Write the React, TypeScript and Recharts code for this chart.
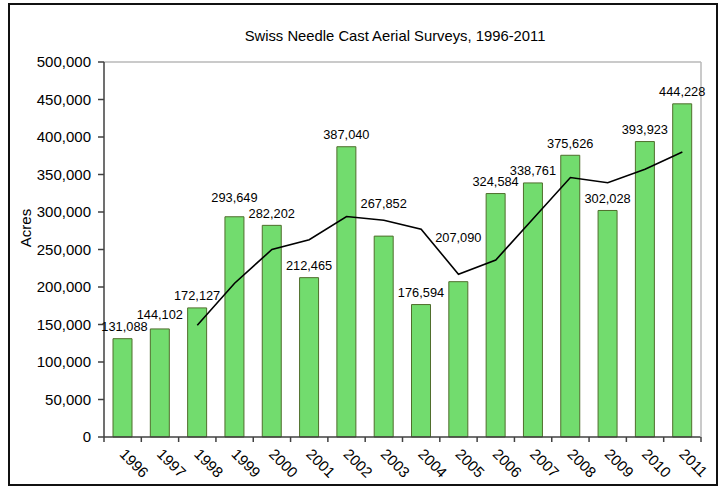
import React from 'react';
import { ComposedChart, Bar, Line, XAxis, YAxis, LabelList, ReferenceLine } from 'recharts';

const years = ['1996','1997','1998','1999','2000','2001','2002','2003','2004','2005','2006','2007','2008','2009','2010','2011'];
const acres = [131088,144102,172127,293649,282202,212465,387040,267852,176594,207090,324584,338761,375626,302028,393923,444228];
const trend = [null,null,149000,205000,250000,263000,294000,289000,277000,217000,236000,291000,346000,339000,357000,380000];
const yTicks = [0,50000,100000,150000,200000,250000,300000,350000,400000,450000,500000];

const data = years.map((y, i) => ({ year: y, acres: acres[i], trend: trend[i] }));

// label nudges (pixels, style only)
const labelNudge: Record<string, [number, number]> = {
  '1996': [2, 0], '1997': [0, 2], '1999': [0, 7], '2003': [0, 21], '2005': [0, 32],
};

const FONT = '"Liberation Sans", Arial, sans-serif';
const PLOT_LEFT = 104, PLOT_RIGHT = 701, PLOT_TOP = 62, PLOT_BOTTOM = 437;
const BAND = (PLOT_RIGHT - PLOT_LEFT) / years.length;

const fmt = (v: number) => v.toLocaleString('en-US');

const XTick = (props: any) => {
  const { x, y, payload, index } = props;
  return (
    <g>
      <line x1={x + BAND / 2} x2={x + BAND / 2} y1={y} y2={y + 5} stroke="#404040" strokeWidth={1.5} />
      {index === 0 && <line x1={x - BAND / 2} x2={x - BAND / 2} y1={y} y2={y + 5} stroke="#404040" strokeWidth={1.5} />}
      <text
        transform={`translate(${x - 4},${y + 18}) rotate(45)`}
        textAnchor="start"
        fontSize={15}
        fontFamily={FONT}
        fill="#000"
      >
        {payload.value}
      </text>
    </g>
  );
};

const BarLabel = (props: any) => {
  const { x, y, width, value, index } = props;
  const nudge = labelNudge[years[index]] || [0, 0];
  return (
    <text
      x={x + width / 2 + nudge[0]}
      y={y - 7.5 - nudge[1]}
      textAnchor="middle"
      fontSize={12.8}
      fontFamily={FONT}
      fill="#000"
    >
      {fmt(value)}
    </text>
  );
};

export default function App() {
  return (
    <div style={{ position: 'absolute', left: 0, top: 0, width: 720, height: 487, background: '#fff' }}>
      <div style={{ position: 'absolute', left: 8, top: 3, width: 710, height: 483, boxSizing: 'border-box', border: '2px solid #111' }} />
      <div style={{ position: 'absolute', left: 0, top: 0 }}>
        <ComposedChart
          width={720}
          height={487}
          data={data}
          margin={{ top: PLOT_TOP, right: 720 - PLOT_RIGHT - 1, left: 0, bottom: 0 }}
          barCategoryGap="23%"
        >
          <text x={395} y={41} textAnchor="middle" fontSize={14.8} fontFamily={FONT} fill="#000">
            Swiss Needle Cast Aerial Surveys, 1996-2011
          </text>
          <text
            transform="translate(31,228) rotate(-90)"
            textAnchor="middle"
            fontSize={15}
            fontFamily={FONT}
            fill="#000"
          >
            Acres
          </text>
          <XAxis
            dataKey="year"
            height={487 - PLOT_BOTTOM}
            axisLine={{ stroke: '#404040', strokeWidth: 1.5 }}
            tickLine={false}
            tickSize={0}
            tickMargin={0}
            interval={0}
            tick={<XTick />}
          />
          <YAxis
            yAxisId="left"
            width={PLOT_LEFT}
            domain={[0, 500000]}
            ticks={yTicks}
            tickFormatter={fmt}
            axisLine={{ stroke: '#404040', strokeWidth: 1.5 }}
            tickLine={{ stroke: '#404040', strokeWidth: 1.5 }}
            tickSize={6}
            tickMargin={7}
            tick={{ fontSize: 15, fontFamily: FONT, fill: '#000' }}
            interval={0}
          />
          <YAxis
            yAxisId="right"
            orientation="right"
            width={1}
            domain={[0, 500000]}
            tick={false}
            tickLine={false}
            axisLine={{ stroke: '#b8b8b8', strokeWidth: 1.5 }}
          />
          <ReferenceLine yAxisId="left" y={500000} stroke="#b8b8b8" strokeWidth={1.5} />
          <Bar
            yAxisId="left"
            dataKey="acres"
            fill="#72DC6E"
            stroke="#4f6e2c"
            strokeWidth={1}
            barSize={19}
            isAnimationActive={false}
          >
            <LabelList dataKey="acres" content={<BarLabel />} />
          </Bar>
          <Line
            yAxisId="left"
            dataKey="trend"
            stroke="#000"
            strokeWidth={1.6}
            dot={false}
            activeDot={false}
            connectNulls={false}
            isAnimationActive={false}
          />
        </ComposedChart>
      </div>
    </div>
  );
}
